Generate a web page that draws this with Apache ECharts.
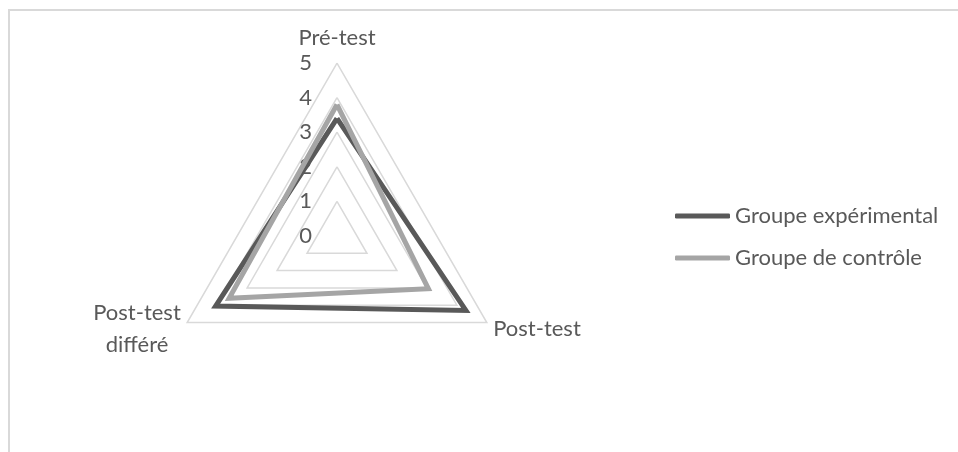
<!DOCTYPE html>
<html>
<head>
<meta charset="utf-8">
<script src="https://cdn.jsdelivr.net/npm/echarts@6/dist/echarts.min.js"></script>
<style>
  html, body { margin: 0; padding: 0; background: #fff; }
  #chart { width: 958px; height: 452px; }
</style>
</head>
<body>
<div id="chart"></div>
<script>
// radar axes, in drawing order (ECharts goes counterclockwise from the top)
const categories = ["Pré-test", "Post-test\ndifféré", "Post-test"];
const seriesNames = ["Groupe expérimental", "Groupe de contrôle"];
const experimental = [3.4, 4.05, 4.3];
const control = [3.8, 3.6, 3.05];
const tickLabels = ["0", "1", "2", "3", "4", "5"];

const textColor = "#595959";
const font = "Lato";
const fontSize = 22;

const chart = echarts.init(document.getElementById("chart"));

chart.setOption({
  animation: false,
  textStyle: { fontFamily: font },
  graphic: [
    // chart frame
    {
      type: "rect",
      shape: { x: 9, y: 10, width: 1000, height: 500 },
      style: { fill: "none", stroke: "#d9d9d9", lineWidth: 2 }
    },
    // axis names
    {
      type: "text", x: 337, y: 38,
      style: { text: categories[0], font: `${fontSize}px ${font}`, fill: textColor, align: "center", verticalAlign: "middle" }
    },
    {
      type: "text", x: 537, y: 329,
      style: { text: categories[2], font: `${fontSize}px ${font}`, fill: textColor, align: "center", verticalAlign: "middle" }
    },
    {
      type: "text", x: 137, y: 329,
      style: { text: categories[1], font: `${fontSize}px ${font}`, fill: textColor, align: "center", verticalAlign: "middle", lineHeight: 32 }
    }
  ],
  legend: {
    orient: "vertical",
    left: 670,
    top: 200,
    icon: "roundRect",
    itemWidth: 55,
    itemHeight: 5,
    itemGap: 20,
    data: seriesNames,
    textStyle: { color: textColor, fontSize: fontSize, fontFamily: font }
  },
  // hidden grid only used to draw the 0..5 scale on the vertical axis
  grid: { left: 321, top: 63, width: 1, height: 173 },
  xAxis: { type: "value", show: false },
  yAxis: {
    type: "value",
    min: 0,
    max: 5,
    interval: 1,
    axisLine: { show: false },
    axisTick: { show: false },
    splitLine: { show: false },
    axisLabel: {
      margin: 9,
      color: textColor,
      fontSize: fontSize,
      fontFamily: font,
      formatter: v => tickLabels[v]
    }
  },
  radar: {
    center: [337, 236],
    radius: 173,
    shape: "polygon",
    startAngle: 90,
    splitNumber: 5,
    indicator: categories.map(name => ({ name, min: 0, max: 5 })),
    axisName: { show: false },
    axisLine: { show: false },
    axisTick: { show: false },
    axisLabel: { show: false },
    splitArea: { show: false },
    splitLine: { lineStyle: { color: "#d9d9d9", width: 1.5 } }
  },
  series: [{
    type: "radar",
    symbol: "none",
    data: [
      {
        name: seriesNames[0],
        value: experimental,
        lineStyle: { color: "#595959", width: 5, join: "miter" },
        itemStyle: { color: "#595959" }
      },
      {
        name: seriesNames[1],
        value: control,
        lineStyle: { color: "#a5a5a5", width: 5, join: "miter" },
        itemStyle: { color: "#a5a5a5" }
      }
    ]
  }]
});

window.addEventListener("resize", chart.resize);
</script>
</body>
</html>
